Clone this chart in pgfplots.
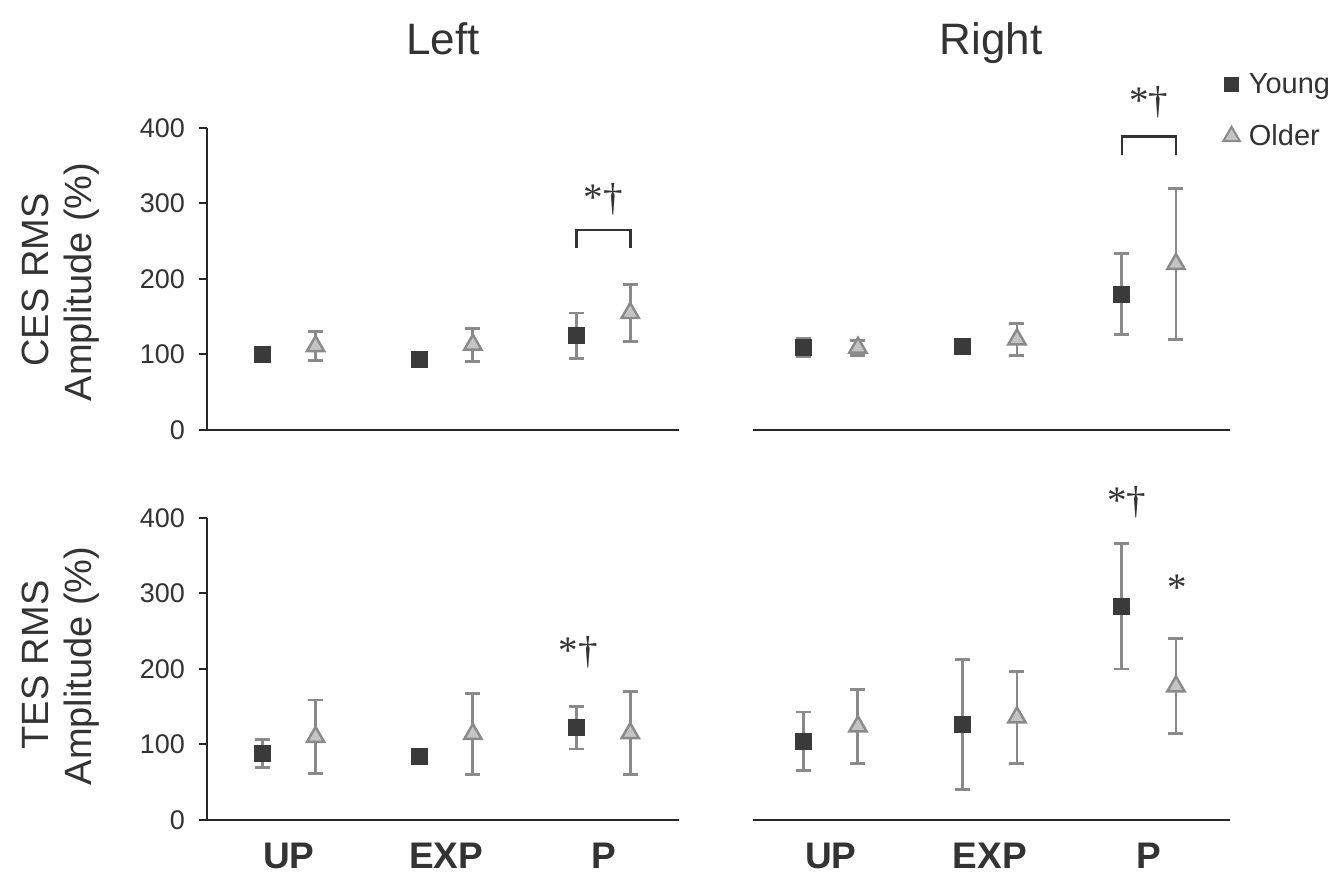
\documentclass[border=0pt]{standalone}
\usepackage{pgfplots}
\pgfplotsset{compat=1.18}
\usepackage{fontspec}
\setmainfont{Liberation Sans}
\newfontfamily\serifsym{Liberation Serif}
\definecolor{txt}{HTML}{333333}
\definecolor{ebar}{HTML}{8A8A8A}
\definecolor{young}{HTML}{3A3A3A}
\definecolor{olderfill}{HTML}{C4C4C4}
\begin{document}
\begin{tikzpicture}
\tikzset{
  sig/.style={font=\serifsym\fontsize{19.5}{20}\selectfont, text=txt},
  brk/.style={line width=1.3pt, txt},
  ylab/.style={rotate=90, anchor=base, font=\fontsize{19}{21}\selectfont, text=txt},
}
\pgfplotsset{
  panel/.style={
    scale only axis, width=236pt, height=151pt,
    ymin=0, ymax=400, clip=false,
    axis x line*=bottom, xtick pos=bottom,
    axis line style={line width=1.3pt, color=black!85},
    xtick=\empty,
    tick style={line width=1pt, black!85},
    /pgf/number format/assume math mode=true,
    every tick label/.append style={font=\fontsize{13.5}{15}\selectfont, text=txt},
  },
  leftpanel/.style={panel, xmin=-0.52, xmax=2.48, axis y line*=left, ytick pos=left,
    ytick={0,100,200,300,400}, tick align=outside, major tick length=4pt,
    yticklabel style={xshift=-3.5pt}},
  rightpanel/.style={panel, xmin=-0.49, xmax=2.51, width=238.5pt, hide y axis},
  bottomlabels/.style={xtick={0,1,2}, xticklabels={UP,EXP,P}, xtick style={draw=none},
    xticklabel style={font=\bfseries\fontsize{18.5}{20}\selectfont, text=txt, yshift=#1}},
  young/.style={only marks, mark=square*, mark size=4pt,
    mark options={draw=young, fill=young, line width=0.5pt},
    error bars/y dir=both, error bars/y explicit,
    error bars/error bar style={line width=1.45pt, ebar},
    error bars/error mark options={rotate=90, line width=1.45pt, ebar, mark size=3.75pt}},
  older/.style={only marks, mark=triangle*, mark size=5pt,
    mark options={draw=ebar, fill=olderfill, line width=1.2pt},
    error bars/y dir=both, error bars/y explicit,
    error bars/error bar style={line width=1.45pt, ebar},
    error bars/error mark options={rotate=90, line width=1.45pt, ebar, mark size=3.75pt}},
}
% ---------- Top left: CES Left ----------
\begin{axis}[leftpanel, at={(103.5pt,228.5pt)}, anchor=south west]
\addplot+[young] coordinates {(-0.17,100) +- (0,6) (0.83,93) +- (0,6) (1.83,125) +- (0,30)};
\addplot+[older] coordinates {(0.17,111) +- (0,19) (1.17,113) +- (0,22) (2.17,155) +- (0,38)};
\draw[brk] (axis cs:1.83,241) -- (axis cs:1.83,265) -- (axis cs:2.17,265) -- (axis cs:2.17,241);
\node[sig] at (axis cs:2,306) {*†};
\end{axis}
% ---------- Top right: CES Right ----------
\begin{axis}[rightpanel, at={(376.5pt,228.5pt)}, anchor=south west,
  legend style={at={(0.985,1.192)}, anchor=north west, draw=none, fill=none, inner sep=0pt,
    font=\fontsize{14.5}{16}\selectfont, text=txt, row sep=11pt, legend cell align=left,
    nodes={inner sep=1.5pt}, /tikz/every odd column/.append style={column sep=3pt}},
  legend image code/.code={\draw[#1] plot coordinates {(0pt,0pt)};}]
\addplot+[young, forget plot] coordinates {(-0.17,109) +- (0,12) (0.83,110) +- (0,5) (1.83,180) +- (0,54)};
\addplot+[older, forget plot] coordinates {(0.17,109) +- (0,10) (1.17,120) +- (0,21) (2.17,220) +- (0,100)};
\addlegendimage{only marks, mark=square*, mark size=3.5pt, mark options={draw=young, fill=young}}
\addlegendentry{Young}
\addlegendimage{only marks, mark=triangle*, mark size=4.8pt, mark options={draw=ebar, fill=olderfill, line width=1pt}}
\addlegendentry{Older}
\draw[brk] (axis cs:1.83,364) -- (axis cs:1.83,389) -- (axis cs:2.17,389) -- (axis cs:2.17,364);
\node[sig] at (axis cs:2,434) {*†};
\end{axis}
% ---------- Bottom left: TES Left ----------
\begin{axis}[leftpanel, bottomlabels=-4pt, at={(103.5pt,33.5pt)}, anchor=south west]
\addplot+[young] coordinates {(-0.17,88) +- (0,19) (0.83,84) +- (0,7) (1.83,122) +- (0,28)};
\addplot+[older] coordinates {(0.17,110) +- (0,49) (1.17,114) +- (0,54) (2.17,115) +- (0,55)};
\node[sig] at (axis cs:1.84,222) {*†};
\end{axis}
% ---------- Bottom right: TES Right ----------
\begin{axis}[rightpanel, bottomlabels=-8pt, at={(376.5pt,33.5pt)}, anchor=south west]
\addplot+[young] coordinates {(-0.17,104) +- (0,39) (0.83,126) +- (0,86) (1.83,283) +- (0,83)};
\addplot+[older] coordinates {(0.17,124) +- (0,49) (1.17,136) +- (0,61) (2.17,177) +- (0,63)};
\node[sig] at (axis cs:1.86,421) {*†};
\node[sig, anchor=base] at (axis cs:2.18,291) {*};
\end{axis}
% ---------- Titles and axis labels ----------
\node[font=\fontsize{22}{24}\selectfont, text=txt, anchor=base] at (221.5pt,416pt) {Left};
\node[font=\fontsize{22}{24}\selectfont, text=txt, anchor=base] at (495.5pt,416pt) {Right};
\node[ylab] at (24pt,303.5pt) {CES RMS};
\node[ylab] at (45.5pt,302.5pt) {Amplitude (\%)};
\node[ylab] at (24pt,111pt) {TES RMS};
\node[ylab] at (45.5pt,110.5pt) {Amplitude (\%)};
\pgfresetboundingbox
\path[use as bounding box] (0pt,0pt) rectangle (667pt,443.5pt);
\end{tikzpicture}
\end{document}
